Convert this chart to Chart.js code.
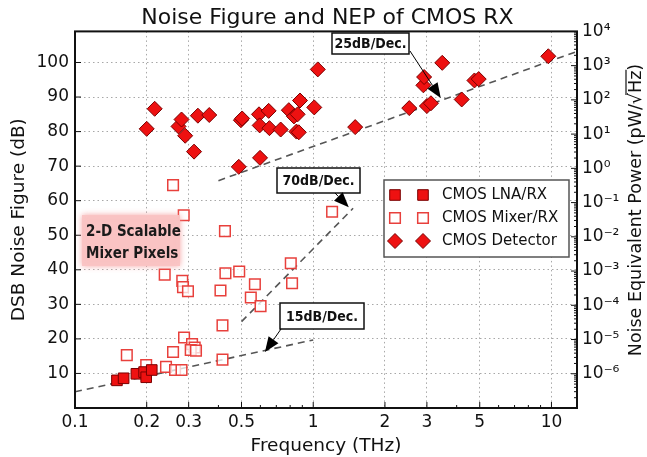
<!DOCTYPE html>
<html>
<head>
<meta charset="utf-8">
<script src="https://cdn.jsdelivr.net/npm/chart.js@4.4.0/dist/chart.umd.min.js"></script>
<style>
html,body{margin:0;padding:0;background:#fff;}
#wrap{width:647px;height:457px;}
</style>
</head>
<body>
<div id="wrap"><canvas id="myChart" width="647" height="457"></canvas></div>
<script>
// frequency in THz, noise figure in dB
const detectorFreq = [0.200,0.216,0.272,0.280,0.290,0.316,0.328,0.366,0.487,0.497,0.503,0.598,0.592,0.596,0.650,0.655,0.730,0.790,0.830,0.850,0.860,0.870,0.880,1.010,1.045,1.50,2.53,2.90,2.92,3.00,3.12,3.48,4.20,4.75,4.95,9.70];
const detectorNF   = [80.8,86.6,81.5,83.5,78.8,74.2,84.6,84.8,69.8,83.3,83.8,72.4,85.0,81.8,86.0,81.0,80.6,86.2,84.4,80.0,85.0,79.8,89.0,87.0,98.0,81.3,86.8,93.4,95.8,87.4,88.2,99.9,89.3,94.8,95.2,101.8];

const mixerFreq = [0.258,0.286,0.426,1.20,0.238,0.282,0.284,0.298,0.428,0.489,0.408,0.569,0.547,0.601,0.805,0.815,0.416,0.287,0.310,0.318,0.306,0.322,0.165,0.258,0.199,0.241,0.416,0.263,0.280];
const mixerNF   = [64.5,55.8,51.2,56.8,38.6,36.8,35.0,33.8,39.0,39.5,34.0,35.8,32.0,29.5,41.9,36.1,23.9,20.4,18.5,17.5,16.8,16.6,15.3,16.2,12.4,11.9,14.0,11.0,11.0];

const lnaFreq = [0.150,0.160,0.181,0.195,0.199,0.210];
const lnaNF   = [8.0,8.6,9.9,10.4,8.9,11.0];

// dashed slope guides
const trend25Freq = [0.40,12.8];
const trend25NF   = [65.8,103.2];
const trend70Freq = [0.50,1.47];
const trend70NF   = [25.0,57.8];
const trend15Freq = [0.10,1.0];
const trend15NF   = [4.7,19.7];

const xTickValues = [0.1,0.2,0.3,0.5,1,2,3,5,10];
const xMinorValues = [0.4,0.6,0.7,0.8,0.9,4,6,7,8,9];
const nfTickValues = [10,20,30,40,50,60,70,80,90,100];
const nepExponents = [-6,-5,-4,-3,-2,-1,0,1,2,3,4];

const slopeLabels = ['25dB/Dec.','70dB/Dec.','15dB/Dec.'];
const slopeTipFreq = [3.43,1.41,0.627];
const slopeTipNF = [89.7,58.1,16.2];

const FONT = 'DejaVu Sans';
const NOTE_FONT = '"DejaVu Sans Condensed", "Liberation Sans Narrow", "DejaVu Sans"';
const sup = {'-':'\u207B','0':'\u2070','1':'\u00B9','2':'\u00B2','3':'\u00B3','4':'\u2074','5':'\u2075','6':'\u2076','7':'\u2077','8':'\u2078','9':'\u2079'};

function toPoints(xs, ys){
  return xs.map((x,i) => ({x:x, y:ys[i]}));
}

function drawMarker(ctx, style, x, y, r, fill, stroke, lw){
  ctx.beginPath();
  if(style === 'rectRot'){
    ctx.moveTo(x, y-r); ctx.lineTo(x+r, y); ctx.lineTo(x, y+r); ctx.lineTo(x-r, y); ctx.closePath();
  } else {
    const s = r*Math.SQRT1_2;
    ctx.rect(x-s, y-s, 2*s, 2*s);
  }
  ctx.fillStyle = fill; ctx.fill();
  ctx.lineWidth = lw; ctx.strokeStyle = stroke; ctx.stroke();
}

function drawArrow(ctx, x0, y0, x1, y1){
  const ang = Math.atan2(y1-y0, x1-x0);
  const len = 15, half = 6;
  const bx = x1 - len*Math.cos(ang), by = y1 - len*Math.sin(ang);
  ctx.strokeStyle = '#000'; ctx.lineWidth = 1;
  ctx.beginPath(); ctx.moveTo(x0,y0); ctx.lineTo(bx,by); ctx.stroke();
  ctx.beginPath();
  ctx.moveTo(x1,y1);
  ctx.lineTo(bx + half*Math.sin(ang), by - half*Math.cos(ang));
  ctx.lineTo(bx - half*Math.sin(ang), by + half*Math.cos(ang));
  ctx.closePath();
  ctx.fillStyle = '#000'; ctx.fill();
}

function labelBox(ctx, text, x, y, w, h){
  ctx.fillStyle = '#fff';
  ctx.fillRect(x, y, w, h);
  ctx.strokeStyle = '#111'; ctx.lineWidth = 1.5;
  ctx.strokeRect(x, y, w, h);
  ctx.fillStyle = '#111';
  ctx.font = 'bold 14px ' + NOTE_FONT;
  ctx.textAlign = 'center'; ctx.textBaseline = 'middle';
  ctx.fillText(text, x + w/2, y + h/2 + 1);
}

const extras = {
  id: 'extras',
  afterDatasetsDraw(chart){
    const ctx = chart.ctx, a = chart.chartArea;
    const xs = chart.scales.x, yl = chart.scales.yNF, yr = chart.scales.yNEP;
    ctx.save();

    // frame and inward ticks
    ctx.strokeStyle = '#111'; ctx.lineWidth = 2;
    ctx.strokeRect(a.left, a.top, a.right-a.left, a.bottom-a.top);
    ctx.lineWidth = 1;
    ctx.beginPath();
    xTickValues.forEach(v => { const p = xs.getPixelForValue(v); ctx.moveTo(p, a.bottom); ctx.lineTo(p, a.bottom-6); });
    xMinorValues.forEach(v => { const p = xs.getPixelForValue(v); ctx.moveTo(p, a.bottom); ctx.lineTo(p, a.bottom-3); });
    nfTickValues.forEach(v => { const p = yl.getPixelForValue(v); ctx.moveTo(a.left, p); ctx.lineTo(a.left+6, p); });
    for(let e=-7; e<4; e++){
      for(let m=1; m<10; m++){
        const p = yr.getPixelForValue(m*Math.pow(10,e));
        if(p < a.top || p > a.bottom) continue;
        ctx.moveTo(a.right, p); ctx.lineTo(a.right-(m===1?6:3), p);
      }
    }
    ctx.stroke();

    // pink note
    ctx.shadowColor = 'rgba(245,150,150,0.9)'; ctx.shadowBlur = 6;
    ctx.fillStyle = 'rgba(250,196,196,0.95)';
    ctx.fillRect(82, 215, 98, 51);
    ctx.shadowBlur = 0;
    ctx.fillStyle = '#1a1a1a';
    ctx.font = 'bold 15px ' + NOTE_FONT;
    ctx.textAlign = 'left'; ctx.textBaseline = 'middle';
    ctx.fillText('2-D Scalable', 86, 232);
    ctx.fillText('Mixer Pixels', 86, 254);

    // slope labels and arrows
    const boxes = [[332,33,77,21,410,51],[277,168,83,25,335,193],[280,303,84,26,281,329]];
    boxes.forEach((b,i) => {
      labelBox(ctx, slopeLabels[i], b[0], b[1], b[2], b[3]);
      drawArrow(ctx, b[4], b[5], xs.getPixelForValue(slopeTipFreq[i]), yl.getPixelForValue(slopeTipNF[i]));
    });

    // legend
    ctx.fillStyle = '#fff'; ctx.strokeStyle = '#555'; ctx.lineWidth = 1.5;
    ctx.fillRect(384, 180, 185, 77); ctx.strokeRect(384, 180, 185, 77);
    chart.data.datasets.filter(d => d.showInLegend).forEach((d,i) => {
      const y = 195 + i*23;
      [395,423].forEach(x => drawMarker(ctx, d.pointStyle, x, y, d.pointRadius, d.backgroundColor, d.borderColor, d.borderWidth));
      ctx.fillStyle = '#111';
      ctx.font = '15px ' + FONT;
      ctx.textAlign = 'left'; ctx.textBaseline = 'middle';
      ctx.fillText(d.label, 442, y);
    });

    // right axis title, reading upward
    ctx.translate(636, 210);
    ctx.rotate(-Math.PI/2);
    ctx.font = '17.5px ' + FONT;
    ctx.fillStyle = '#111';
    ctx.textAlign = 'left'; ctx.textBaseline = 'middle';
    const t1 = 'Noise Equivalent Power (pW/\u221A', t2 = 'Hz', t3 = ')';
    const total = ctx.measureText(t1+t2+t3).width;
    const x0 = -total/2;
    ctx.fillText(t1+t2+t3, x0, 0);
    const w1 = ctx.measureText(t1).width, w2 = ctx.measureText(t2).width;
    ctx.lineWidth = 1.2; ctx.strokeStyle = '#111';
    ctx.beginPath(); ctx.moveTo(x0 + w1 - 2, -10); ctx.lineTo(x0 + w1 + w2 + 1, -10); ctx.stroke();

    ctx.restore();
  }
};

const tickFont = {family: FONT, size: 17};
const gridStyle = {color: '#a8a8a8', lineWidth: 1, drawTicks: false};
const dotted = {display: false, dash: [1.5, 3]};

const ctx = document.getElementById('myChart');
const myChart = new Chart(ctx, {
  type: 'scatter',
  data: {
    datasets: [
      {label: 'CMOS LNA/RX', data: toPoints(lnaFreq, lnaNF), pointStyle: 'rect', pointRadius: 7.5,
       backgroundColor: '#ee1111', borderColor: '#7a0000', borderWidth: 1, yAxisID: 'yNF', order: 1, showInLegend: true},
      {label: 'CMOS Mixer/RX', data: toPoints(mixerFreq, mixerNF), pointStyle: 'rect', pointRadius: 7.5,
       backgroundColor: 'rgba(255,255,255,0.75)', borderColor: '#e8403c', borderWidth: 1.5, yAxisID: 'yNF', order: 1, showInLegend: true},
      {label: 'CMOS Detector', data: toPoints(detectorFreq, detectorNF), pointStyle: 'rectRot', pointRadius: 7.5,
       backgroundColor: '#ee1111', borderColor: '#7a0000', borderWidth: 1, yAxisID: 'yNF', order: 1, showInLegend: true},
      {type: 'line', label: '25dB/Dec.', data: toPoints(trend25Freq, trend25NF), borderColor: '#555', borderWidth: 1.6,
       borderDash: [7,5], pointRadius: 0, yAxisID: 'yNF', order: 2},
      {type: 'line', label: '70dB/Dec.', data: toPoints(trend70Freq, trend70NF), borderColor: '#555', borderWidth: 1.6,
       borderDash: [7,5], pointRadius: 0, yAxisID: 'yNF', order: 2},
      {type: 'line', label: '15dB/Dec.', data: toPoints(trend15Freq, trend15NF), borderColor: '#555', borderWidth: 1.6,
       borderDash: [7,5], pointRadius: 0, yAxisID: 'yNF', order: 2}
    ]
  },
  options: {
    responsive: false,
    animation: false,
    devicePixelRatio: 1,
    layout: {padding: {left: 8, right: 0, top: 0, bottom: 0}},
    plugins: {
      legend: {display: false},
      tooltip: {enabled: false},
      title: {display: true, text: 'Noise Figure and NEP of CMOS RX', color: '#111',
              font: {family: FONT, size: 22, weight: 'normal'}, padding: {top: 5, bottom: 0}}
    },
    scales: {
      x: {
        type: 'logarithmic', position: 'bottom', min: 0.1, max: 12.8,
        afterBuildTicks: s => { s.ticks = xTickValues.map(v => ({value: v})); },
        afterFit: s => { s.height = 49; },
        ticks: {autoSkip: false, maxRotation: 0, padding: 4, color: '#111', font: tickFont, callback: v => String(v)},
        grid: gridStyle, border: dotted,
        title: {display: true, text: 'Frequency (THz)', color: '#111', font: {family: FONT, size: 18.5}, padding: 0}
      },
      yNF: {
        type: 'linear', position: 'left', min: 0, max: 109,
        afterBuildTicks: s => { s.ticks = nfTickValues.map(v => ({value: v})); },
        afterFit: s => { s.width = 67; },
        ticks: {padding: 6, color: '#111', font: tickFont},
        grid: gridStyle, border: dotted,
        title: {display: true, text: 'DSB Noise Figure (dB)', color: '#111', font: {family: FONT, size: 18.5}, padding: 0}
      },
      yNEP: {
        type: 'logarithmic', position: 'right', min: 1e-7, max: 1e4,
        afterBuildTicks: s => { s.ticks = nepExponents.map(e => ({value: Math.pow(10, e)})); },
        afterFit: s => { s.width = 70; },
        ticks: {padding: 5, color: '#111', font: tickFont,
                callback: v => '10' + String(Math.round(Math.log10(v))).split('').map(c => sup[c]).join('')},
        grid: {display: false, drawTicks: false}, border: {display: false}
      }
    }
  },
  plugins: [extras]
});
</script>
</body>
</html>
